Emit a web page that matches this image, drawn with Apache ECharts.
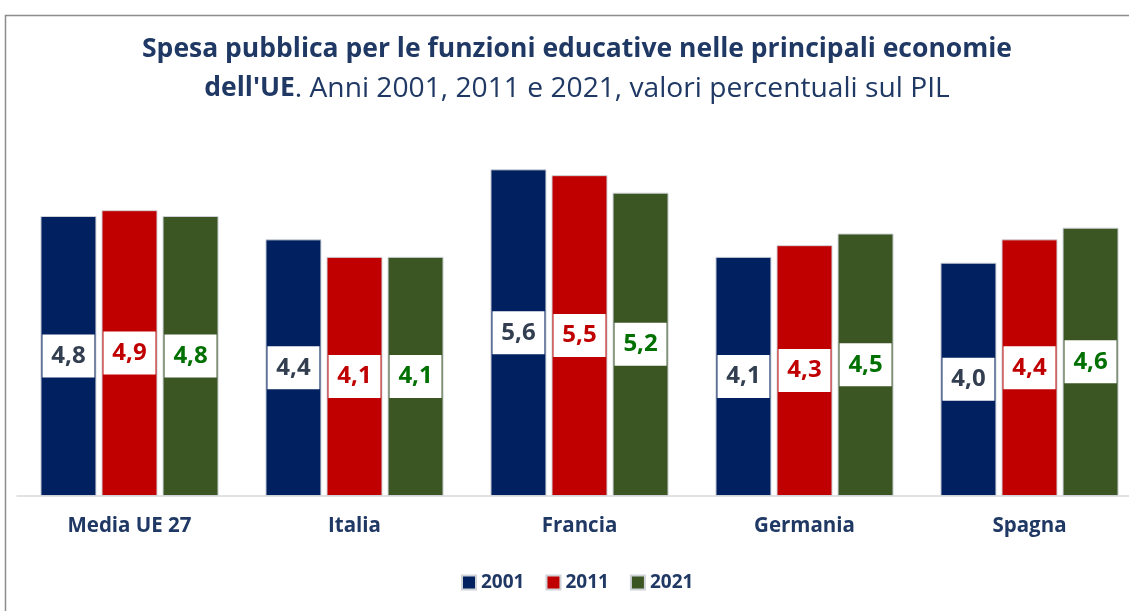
<!DOCTYPE html>
<html>
<head>
<meta charset="utf-8">
<script src="https://cdn.jsdelivr.net/npm/echarts@6/dist/echarts.min.js"></script>
<style>
html,body{margin:0;padding:0;background:#fff;overflow:hidden;}
#chart{width:1145px;height:611px;}
</style>
</head>
<body>
<div id="chart"></div>
<script>
var categories = ['Media UE 27', 'Italia', 'Francia', 'Germania', 'Spagna'];
var seriesNames = ['2001', '2011', '2021'];
var values2001 = [4.8, 4.4, 5.6, 4.1, 4.0];
var values2011 = [4.9, 4.1, 5.5, 4.3, 4.4];
var values2021 = [4.8, 4.1, 5.2, 4.5, 4.6];

var barColors = ['#002060', '#C00000', '#3B5623'];
var labelColors = ['#333F50', '#C00000', '#007000'];
var allValues = [values2001, values2011, values2021];
var FONT = 'Open Sans';

var chart = echarts.init(document.getElementById('chart'), null, {renderer: 'canvas'});

var series = allValues.map(function (vals, i) {
  return {
    name: seriesNames[i],
    type: 'bar',
    data: vals,
    barWidth: 56,
    barGap: '9%',
    itemStyle: {color: barColors[i], borderColor: '#cfd3d8', borderWidth: 1},
    label: {
      show: true,
      position: 'inside',
      formatter: function (p) { return p.value.toFixed(1).replace('.', ','); },
      color: labelColors[i],
      backgroundColor: '#ffffff',
      width: 52,
      height: 43,
      lineHeight: 43,
      align: 'center',
      verticalAlign: 'middle',
      fontFamily: FONT,
      fontWeight: 'bold',
      fontSize: 24
    },
    emphasis: {disabled: true}
  };
});

chart.setOption({
  animation: false,
  backgroundColor: '#ffffff',
  graphic: [{
    type: 'polyline',
    shape: {points: [[5.5, 640], [5.5, 15.5], [1160, 15.5]]},
    style: {stroke: '#8c8c8c', lineWidth: 1.5, fill: null},
    silent: true
  }],
  title: {
    text: '{b|Spesa pubblica per le funzioni educative nelle principali economie}\n{b|dell\'UE}{n|. Anni 2001, 2011 e 2021, valori percentuali sul PIL}',
    left: 572,
    textAlign: 'center',
    top: 25,
    textStyle: {
      rich: {
        b: {fontFamily: FONT, fontWeight: 'bold', fontSize: 26.5, color: '#1F3864', lineHeight: 39},
        n: {fontFamily: FONT, fontWeight: 'normal', fontSize: 28.2, color: '#1F3864', lineHeight: 39}
      }
    }
  },
  legend: {
    data: seriesNames,
    top: 568,
    left: 456,
    itemWidth: 14,
    itemHeight: 14,
    itemGap: 21,
    icon: 'rect',
    textStyle: {fontFamily: FONT, fontWeight: 'bold', fontSize: 19, color: '#1F3864'}
  },
  grid: {left: 17, width: 1125, top: 146, height: 350, containLabel: false},
  xAxis: {
    type: 'category',
    data: categories,
    axisLine: {show: true, lineStyle: {color: '#d9d9d9', width: 1.5}},
    axisTick: {show: false},
    axisLabel: {fontFamily: FONT, fontWeight: 'bold', fontSize: 20.5, color: '#1F3864', margin: 20}
  },
  yAxis: {
    type: 'value',
    min: 0,
    max: 6,
    show: false,
    splitLine: {show: false}
  },
  series: series
});
</script>
</body>
</html>
